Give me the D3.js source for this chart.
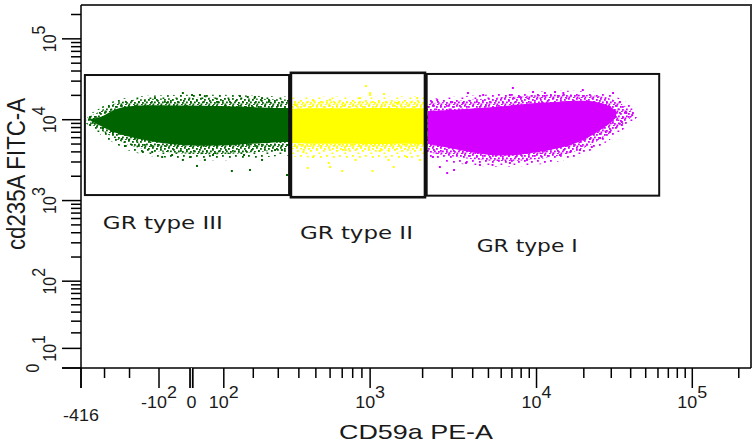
<!DOCTYPE html>
<html>
<head>
<meta charset="utf-8">
<script src="https://cdn.jsdelivr.net/npm/d3@7"></script>
<style>
  html, body { margin: 0; padding: 0; background: #fff; }
  svg { display: block; }
  text { font-family: "Liberation Sans", Arial, sans-serif; fill: #1a1a1a; }
  .gate-label { font-family: "DejaVu Sans", Verdana, sans-serif; }
</style>
</head>
<body>
<svg id="chart" width="753" height="448"></svg>
<script>
// ---- Axis ticks (channel values) ----
const xMajorTicks = [-416, -100, 0, 100, 1000, 10000, 100000];
const xTickBase   = ["-416", "-10", "0", "10", "10", "10", "10"];
const xTickExp    = ["", "2", "", "2", "3", "4", "5"];
const xMinorTicks = [-300, -200,
  200, 300, 400, 500, 600, 700, 800, 900,
  2000, 3000, 4000, 5000, 6000, 7000, 8000, 9000,
  20000, 30000, 40000, 50000, 60000, 70000, 80000, 90000, 200000];

const yMajorTicks = [0, 10, 100, 1000, 10000, 100000];
const yTickBase   = ["0", "10", "10", "10", "10", "10"];
const yTickExp    = ["", "1", "2", "3", "4", "5"];
const yMinorTicks = [20, 30, 40, 50, 60, 70, 80, 90,
  200, 300, 400, 500, 600, 700, 800, 900,
  2000, 3000, 4000, 5000, 6000, 7000, 8000, 9000,
  20000, 30000, 40000, 50000, 60000, 70000, 80000, 90000, 200000];

const xTitle = "CD59a PE-A";
const yTitle = "cd235A FITC-A";

// ---- Gates: [CD59a min, max], [CD235a min, max] ----
const gateNames = ["GR type III", "GR type II", "GR type I"];
const gateCD59  = [[-395, 350], [359, 2065], [2113, 61100]];
const gateCD235 = [[1170, 35700], [1100, 38000], [1150, 36800]];

// ---- Populations, coloured by gate ----
const popColors = ["#006400", "#ffff00", "#d400ff"];

// dense core of each cluster: [CD59a, CD235a low, CD235a high]
const coreIII = [[-372, 9900, 10200], [-307, 8100, 10800], [-264, 7050, 13200], [-224, 6450, 14400],
  [-173, 5800, 15200], [-65, 4900, 15000], [35, 4700, 15000], [143, 4900, 14600], [265, 5200, 14000], [348, 5300, 14000]];
const coreII = [[359, 5150, 13600], [520, 5000, 13900], [780, 5100, 13700], [1100, 4950, 14000], [1500, 5100, 13800], [2060, 5000, 13900]];
const coreI = [[2150, 5000, 12800], [3340, 4200, 13400], [4430, 3770, 13900], [5890, 3560, 14600], [7860, 3660, 15400],
  [10500, 3990, 16300], [14100, 4470, 16700], [17500, 5000, 17200], [21900, 6100, 17200], [25400, 7460, 16300],
  [29400, 8850, 14800], [32300, 10800, 12800]];

// speckled fringe around each core (inner, denser)
const fringeIII = [[-382, 9400, 10800], [-330, 7800, 12200], [-280, 6400, 15200], [-230, 5300, 17000], [-170, 4400, 18000],
  [-60, 3900, 18500], [40, 3700, 18800], [150, 3800, 18500], [260, 4100, 18000], [348, 4200, 17800]];
const fringeII = [[359, 4300, 16800], [600, 4100, 17200], [1000, 4200, 16800], [1500, 4000, 17300], [2060, 4200, 17000]];
const fringeI = [[2113, 3990, 15800], [3340, 3360, 17300], [5890, 3000, 18800], [10500, 3180, 20400], [17500, 3880, 21000],
  [25400, 5610, 19800], [31700, 7460, 17600], [38400, 9920, 14000], [42000, 11400, 12100]];

// speckled fringe (outer, sparse)
const haloIII = [[-388, 9000, 11300], [-335, 7000, 13000], [-285, 5600, 16200], [-230, 4500, 18300], [-170, 3700, 19600],
  [-60, 3300, 20200], [40, 3100, 20500], [150, 3200, 20200], [260, 3500, 19500], [348, 3600, 19300]];
const haloII = [[359, 3500, 19000], [600, 3300, 19500], [1000, 3400, 19000], [1500, 3300, 19600], [2060, 3400, 19200]];
const haloI = [[2113, 3300, 17800], [3340, 2800, 19500], [5890, 2550, 21000], [10500, 2750, 22500], [17500, 3300, 23000],
  [25400, 4600, 22000], [32000, 6300, 20000], [39500, 8800, 15500], [44500, 10900, 12700]];

// isolated events: [CD59a, CD235a]
const eventsIII = [[-26, 21400], [2, 20200], [26, 20200], [41, 19600], [153, 19600], [180, 19100], [206, 19100], [233, 18500],
  [-113, 18500], [-72, 16500], [82, 16500], [262, 17000], [-217, 4730], [-153, 3990], [-122, 3990], [-90, 3460], [-59, 3660],
  [-26, 3180], [-4, 3460], [17, 2680], [41, 3180], [66, 3660], [126, 2320], [167, 3660], [188, 2390], [233, 3180],
  [286, 4220], [316, 4220], [340, 2070], [-368, 10800], [-368, 8600], [-307, 7900], [-264, 7050]];
const eventsII = [[948, 26100], [1000, 20200], [1000, 21400], [1197, 20800], [482, 17500], [878, 18500], [1860, 18500],
  [450, 2530], [700, 2320], [590, 2920], [600, 2600], [1030, 2320], [1360, 2600], [830, 3180], [1270, 3180], [1930, 3180],
  [425, 3990], [482, 3460], [730, 4220], [1620, 3460], [380, 15200], [705, 16100], [1420, 16100], [1136, 4100], [600, 17600]];
const eventsI = [[7100, 24700], [3740, 21400], [4640, 20200], [9500, 22000], [11300, 21400], [13100, 22000], [14800, 21400],
  [19700, 23300], [30800, 21400], [6800, 20200], [7860, 19100], [2440, 17500], [3000, 16500], [3480, 16100], [2270, 16500],
  [34100, 16500], [37500, 12100], [40900, 11400], [35100, 9370], [35100, 8600], [29400, 7050], [25400, 5940], [22500, 4600],
  [18900, 4220], [16400, 3990], [14100, 3660], [2800, 2190], [3080, 2390], [2530, 2600], [3640, 2920], [4430, 2760],
  [5300, 2760], [6800, 2920], [2300, 3460], [8700, 3180]];

// ---- Layout ----
const plotLeft = 81, plotRight = 751, plotTop = 5, plotBottom = 368;
const xDomain = [-416, 240000];
const yDomain = [0, 262144];

// Biexponential (logicle) display transform for the CD59a axis
const LOGICLE_C = 56, LOGICLE_P = 2.63;
function logicleS(u) {
  const p = LOGICLE_P;
  return LOGICLE_C * (Math.exp(u) - p * p * Math.exp(-u / p) + p * p - 1);
}
function logicleU(v) {
  const a = Math.abs(v);
  let lo = 0, hi = 20;
  for (let i = 0; i < 60; i++) {
    const m = (lo + hi) / 2;
    if (logicleS(m) < a) lo = m; else hi = m;
  }
  return (v < 0 ? -1 : 1) * (lo + hi) / 2;
}
// arcsinh-compressed log display for the CD235a axis
const asinhT = v => Math.asinh(v / 17);

const xs = d3.scaleLinear().domain(xDomain.map(logicleU)).range([plotLeft, plotRight]);
const ys = d3.scaleLinear().domain(yDomain.map(asinhT)).range([plotBottom, plotTop]);
const X = v => xs(logicleU(v));
const Y = v => ys(asinhT(v));

const svg = d3.select("#chart");
const defs = svg.append("defs");

// speckle textures for the cluster fringes
const speckDense = { w: 8, h: 7, dots: [[0, 0], [4, 1], [2, 3.5], [6, 4], [0.5, 5.5], [5, 6]] };
const speckSparse = { w: 13, h: 11, dots: [[1, 1], [8, 2], [4, 6], [11, 7], [6.5, 9.5]] };
popColors.forEach((c, i) => {
  [["dense", speckDense], ["sparse", speckSparse]].forEach(([name, s]) => {
    const pat = defs.append("pattern").attr("id", `${name}${i}`)
      .attr("patternUnits", "userSpaceOnUse").attr("width", s.w).attr("height", s.h);
    pat.selectAll("rect").data(s.dots).join("rect")
      .attr("x", d => d[0]).attr("y", d => d[1]).attr("width", 1.8).attr("height", 1.8).attr("fill", c);
  });
});

// plot frame (top and right sides)
svg.append("path")
  .attr("d", `M${plotLeft},${plotTop}H${plotRight}V${plotBottom}`)
  .attr("fill", "none").attr("stroke", "#3a3a3a").attr("stroke-width", 2);

const band = d3.area()
  .x(d => X(d[0])).y0(d => Y(d[1])).y1(d => Y(d[2]))
  .curve(d3.curveBasis);

const pops = [
  { core: coreIII, fringe: fringeIII, halo: haloIII, events: eventsIII },
  { core: coreII, fringe: fringeII, halo: haloII, events: eventsII },
  { core: coreI, fringe: fringeI, halo: haloI, events: eventsI }
];
const dotsG = svg.append("g");
pops.forEach((p, i) => {
  dotsG.append("path").attr("d", band(p.halo)).attr("fill", `url(#sparse${i})`);
  dotsG.append("path").attr("d", band(p.fringe)).attr("fill", `url(#dense${i})`);
  dotsG.append("path").attr("d", band(p.core)).attr("fill", popColors[i]);
  dotsG.append("g").selectAll("rect").data(p.events).join("rect")
    .attr("x", d => X(d[0]) - 1).attr("y", d => Y(d[1]) - 1)
    .attr("width", 2).attr("height", 2).attr("fill", popColors[i]);
});

// gates
svg.append("g").selectAll("rect").data(gateNames).join("rect")
  .attr("x", (d, i) => X(gateCD59[i][0]))
  .attr("y", (d, i) => Y(gateCD235[i][1]))
  .attr("width", (d, i) => X(gateCD59[i][1]) - X(gateCD59[i][0]))
  .attr("height", (d, i) => Y(gateCD235[i][0]) - Y(gateCD235[i][1]))
  .attr("fill", "none").attr("stroke", "#111").attr("stroke-width", (d, i) => i === 1 ? 2.6 : 2);

// gate labels: offset from each gate's lower-left corner, and drawn width
const gateLabelOffset = [[18, 34], [9, 42], [50, 56]];
const gateLabelWidth = [120, 113, 101];
svg.append("g").selectAll("text").data(gateNames).join("text")
  .attr("class", "gate-label")
  .attr("x", (d, i) => X(gateCD59[i][0]) + gateLabelOffset[i][0])
  .attr("y", (d, i) => Y(gateCD235[i][0]) + gateLabelOffset[i][1])
  .attr("font-size", 18)
  .attr("textLength", (d, i) => gateLabelWidth[i])
  .attr("lengthAdjust", "spacingAndGlyphs")
  .text(d => d);

// ---- axes ----
const axisG = svg.append("g").attr("stroke", "#000").attr("stroke-width", 1.5);
const xMajorLen = 20, xMinorLen = 10, yMajorLen = 19, yMinorLen = 10;

// axis lines
axisG.append("line").attr("x1", plotLeft - yMajorLen).attr("x2", plotRight)
  .attr("y1", plotBottom).attr("y2", plotBottom);
axisG.append("line").attr("x1", plotLeft).attr("x2", plotLeft)
  .attr("y1", plotTop).attr("y2", plotBottom + xMajorLen);

axisG.append("g").selectAll("line").data(xMinorTicks).join("line")
  .attr("x1", d => X(d)).attr("x2", d => X(d))
  .attr("y1", plotBottom).attr("y2", plotBottom + xMinorLen);
axisG.append("g").selectAll("line").data(xMajorTicks).join("line")
  .attr("x1", d => X(d)).attr("x2", d => X(d))
  .attr("y1", plotBottom).attr("y2", plotBottom + xMajorLen)
  .attr("stroke-width", d => d === 0 ? 4.5 : 1.5);
axisG.append("line").attr("x1", X(0)).attr("x2", X(0))
  .attr("y1", plotBottom).attr("y2", plotBottom + xMajorLen)
  .attr("stroke", "#fff").attr("stroke-width", 1);

axisG.append("g").selectAll("line").data(yMinorTicks).join("line")
  .attr("x1", plotLeft - yMinorLen).attr("x2", plotLeft)
  .attr("y1", d => Y(d)).attr("y2", d => Y(d));
axisG.append("g").selectAll("line").data(yMajorTicks).join("line")
  .attr("x1", plotLeft - yMajorLen).attr("x2", plotLeft)
  .attr("y1", d => Y(d)).attr("y2", d => Y(d));

// tick labels (10 with a raised exponent)
const tickFont = 16;
function tickLabel(sel, base, exp) {
  sel.append("tspan").text(base);
  if (exp) sel.append("tspan").attr("dy", -10).text(exp);
}
const xLabelBase = plotBottom + 40, xMinLabelDrop = 13;
xMajorTicks.forEach((v, i) => {
  const t = svg.append("text")
    .attr("transform", `translate(${X(v)},${xLabelBase + (i === 0 ? xMinLabelDrop : 0)}) scale(1.12,1)`)
    .attr("text-anchor", "middle").attr("font-size", tickFont);
  tickLabel(t, xTickBase[i], xTickExp[i]);
});
const yLabelBase = plotLeft - 25, yMinLabelShift = 17;
yMajorTicks.forEach((v, i) => {
  const t = svg.append("text")
    .attr("transform", `translate(${yLabelBase - (i === 0 ? yMinLabelShift : 0)},${Y(v)}) scale(1.1,1) rotate(-90)`)
    .attr("text-anchor", "middle").attr("font-size", tickFont);
  tickLabel(t, yTickBase[i], yTickExp[i]);
});

// axis titles
svg.append("text")
  .attr("x", 416).attr("y", 439)
  .attr("text-anchor", "middle").attr("font-size", 21)
  .attr("textLength", 154).attr("lengthAdjust", "spacingAndGlyphs")
  .text(xTitle);
svg.append("text")
  .attr("transform", "translate(25,174) scale(1.2,1) rotate(-90)")
  .attr("text-anchor", "middle").attr("font-size", 21)
  .attr("textLength", 152).attr("lengthAdjust", "spacingAndGlyphs")
  .text(yTitle);
</script>
</body>
</html>
